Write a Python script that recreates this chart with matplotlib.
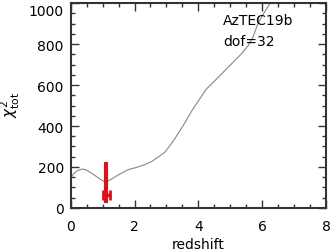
import matplotlib
matplotlib.use("Agg")
import matplotlib.pyplot as plt
import matplotlib.transforms as mtrans
from matplotlib.ticker import MultipleLocator

# data
z = [0.0, 0.1, 0.2, 0.36, 0.5, 0.7, 0.9, 1.09, 1.3, 1.5, 1.8, 2.06, 2.3, 2.53, 2.8, 2.95,
     3.22, 3.52, 3.83, 4.25, 4.67, 5.08, 5.34, 5.55, 5.71, 5.86, 6.05, 6.23, 6.35]
chi2 = [146, 168, 182, 190, 185, 165, 143, 125, 143, 162, 187, 198, 210, 226, 255, 272,
        328, 401, 483, 580, 645, 710, 751, 790, 833, 898, 950, 995, 1030]

z_best = [1.11]
chi2_v_lo = [25]
chi2_v_hi = [225]
z_err_lo = [1.0]
z_err_hi = [1.22]
chi2_h = [63]

label_name = "AzTEC19b"
label_dof = "dof=32"

plt.rcParams['font.family'] = ['DejaVu Sans']
fig = plt.figure(figsize=(3.32, 2.53), dpi=100)
ax = fig.add_axes([0.213, 0.174, 0.769, 0.810])

ax.plot(z, chi2, color='#888888', lw=0.8)

red = '#d8141e'
ax.vlines(z_best, chi2_v_lo, chi2_v_hi, color=red, lw=3)
ax.errorbar(z_best, chi2_h,
            xerr=[[z_best[0] - z_err_lo[0]], [z_err_hi[0] - z_best[0]]],
            fmt='none', ecolor=red, elinewidth=2.5, capsize=3.5, capthick=2)

ax.set_xlim(0, 8)
ax.set_ylim(0, 1000)
ax.xaxis.set_major_locator(MultipleLocator(2))
ax.xaxis.set_minor_locator(MultipleLocator(0.5))
ax.yaxis.set_major_locator(MultipleLocator(200))
ax.yaxis.set_minor_locator(MultipleLocator(50))
ax.tick_params(which='both', direction='in', top=True, right=True, color='#333333')
ax.tick_params(which='major', length=6, width=1, labelsize=10)
ax.tick_params(axis='x', which='major', pad=8)
ax.tick_params(axis='y', which='major', pad=5)
ax.tick_params(which='minor', length=3, width=1)
for s in ax.spines.values():
    s.set_linewidth(1.5)
    s.set_color('#333333')

ax.set_xlabel('redshift', fontsize=10, labelpad=3)
ax.set_ylabel(r'$\chi^2_{\rm tot}$', fontsize=11)
ax.yaxis.set_label_coords(-0.19, 0.51)

ax.text(0.597, 0.95, label_name, transform=ax.transAxes, fontsize=10, va='top', ha='left')
ax.text(0.597, 0.85, label_dof, transform=ax.transAxes, fontsize=10, va='top', ha='left')

fig.canvas.draw()
off = mtrans.ScaledTranslation(0, -6 / 100, fig.dpi_scale_trans)
for lab in ax.get_yticklabels():
    if lab.get_text() == '1000':
        lab.set_transform(lab.get_transform() + off)

fig.savefig('out.png', dpi=100)
